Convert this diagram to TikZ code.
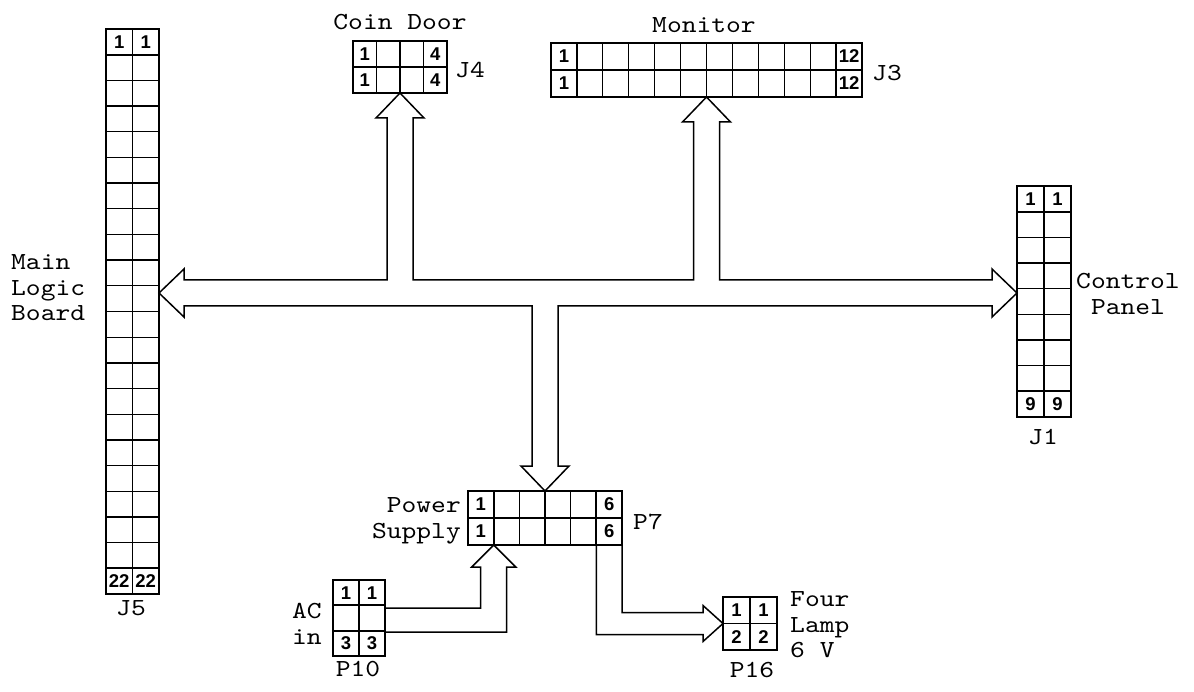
\documentclass[tikz,border=0pt]{standalone}
\usepackage{fontspec}
\usetikzlibrary{calc}
\newfontfamily\labelfont{lmmono10-regular.otf}[FakeStretch=1.15]
\newfontfamily\pinfont{Liberation Sans}
\begin{document}
\begin{tikzpicture}
  [
    x=1pt,y=-1pt,
    plug/.style={draw,line width=2.6pt,inner sep=0pt,outer sep=0pt},
    pinno/.style 2 args={draw,line width=1.8pt,inner sep=0pt,outer sep=0pt,
      minimum width=#1,minimum height=#2,font=\pinfont\bfseries\fontsize{18.5}{18.5}\selectfont},
    cell/.style={line width=1.3pt},
    bus/.style={draw,line width=1.5pt,line join=miter},
    tag/.style={inner sep=0pt,font=\labelfont\fontsize{24.5}{25.5}\selectfont},
  ]
  \useasboundingbox (0,0) rectangle (1194,692);

  % connector blocks
  \node[plug,minimum width=53pt,minimum height=565pt] (J5) at (132.5,311.5) {};
  \node[plug,minimum width=94pt,minimum height=52pt] (J4) at (400,67) {};
  \node[plug,minimum width=311pt,minimum height=54pt] (J3) at (706.5,70) {};
  \node[plug,minimum width=54pt,minimum height=231pt] (J1) at (1044,301.5) {};
  \node[plug,minimum width=154pt,minimum height=54pt] (P7) at (545,518) {};
  \node[plug,minimum width=52pt,minimum height=76pt] (P10) at (359,618) {};
  \node[plug,minimum width=54pt,minimum height=53pt] (P16) at (750,623.5) {};

  % cell lines
  \foreach \k in {1,...,21}
    \draw[cell] ($(J5.north west)!\k/22!(J5.south west)$) -- ($(J5.north east)!\k/22!(J5.south east)$);
  \draw[cell] (J5.north) -- (J5.south);
  \foreach \k in {1,2,3}
    \draw[cell] ($(J4.north west)!\k/4!(J4.north east)$) -- ($(J4.south west)!\k/4!(J4.south east)$);
  \draw[cell] (J4.west) -- (J4.east);
  \foreach \k in {1,...,11}
    \draw[cell] ($(J3.north west)!\k/12!(J3.north east)$) -- ($(J3.south west)!\k/12!(J3.south east)$);
  \draw[cell] (J3.west) -- (J3.east);
  \foreach \k in {1,...,8}
    \draw[cell] ($(J1.north west)!\k/9!(J1.south west)$) -- ($(J1.north east)!\k/9!(J1.south east)$);
  \draw[cell] (J1.north) -- (J1.south);
  \foreach \k in {1,...,5}
    \draw[cell] ($(P7.north west)!\k/6!(P7.north east)$) -- ($(P7.south west)!\k/6!(P7.south east)$);
  \draw[cell] (P7.west) -- (P7.east);
  \foreach \k in {1,2}
    \draw[cell] ($(P10.north west)!\k/3!(P10.south west)$) -- ($(P10.north east)!\k/3!(P10.south east)$);
  \draw[cell] (P10.north) -- (P10.south);
  \draw[cell] (P16.north) -- (P16.south);
  \draw[cell] (P16.west) -- (P16.east);

  % pin numbers
  \node[pinno={26.5pt}{25.7pt},anchor=north west] (J5 a1) at (J5.north west) {1};
  \node[pinno={26.5pt}{25.7pt},anchor=north east] (J5 a2) at (J5.north east) {1};
  \node[pinno={26.5pt}{25.7pt},anchor=south west] (J5 b1) at (J5.south west) {22};
  \node[pinno={26.5pt}{25.7pt},anchor=south east] (J5 b2) at (J5.south east) {22};
  \node[pinno={23.5pt}{26pt},anchor=north west] (J4 a1) at (J4.north west) {1};
  \node[pinno={23.5pt}{26pt},anchor=south west] (J4 b1) at (J4.south west) {1};
  \node[pinno={23.5pt}{26pt},anchor=north east] (J4 a4) at (J4.north east) {4};
  \node[pinno={23.5pt}{26pt},anchor=south east] (J4 b4) at (J4.south east) {4};
  \node[pinno={25.9pt}{27pt},anchor=north west] (J3 a1) at (J3.north west) {1};
  \node[pinno={25.9pt}{27pt},anchor=south west] (J3 b1) at (J3.south west) {1};
  \node[pinno={25.9pt}{27pt},anchor=north east] (J3 a12) at (J3.north east) {12};
  \node[pinno={25.9pt}{27pt},anchor=south east] (J3 b12) at (J3.south east) {12};
  \node[pinno={27pt}{25.7pt},anchor=north west] (J1 a1) at (J1.north west) {1};
  \node[pinno={27pt}{25.7pt},anchor=north east] (J1 a2) at (J1.north east) {1};
  \node[pinno={27pt}{25.7pt},anchor=south west] (J1 b1) at (J1.south west) {9};
  \node[pinno={27pt}{25.7pt},anchor=south east] (J1 b2) at (J1.south east) {9};
  \node[pinno={25.7pt}{27pt},anchor=north west] (P7 a1) at (P7.north west) {1};
  \node[pinno={25.7pt}{27pt},anchor=south west] (P7 b1) at (P7.south west) {1};
  \node[pinno={25.7pt}{27pt},anchor=north east] (P7 a6) at (P7.north east) {6};
  \node[pinno={25.7pt}{27pt},anchor=south east] (P7 b6) at (P7.south east) {6};
  \node[pinno={26pt}{25.3pt},anchor=north west] (P10 a1) at (P10.north west) {1};
  \node[pinno={26pt}{25.3pt},anchor=north east] (P10 a2) at (P10.north east) {1};
  \node[pinno={26pt}{25.3pt},anchor=south west] (P10 b1) at (P10.south west) {3};
  \node[pinno={26pt}{25.3pt},anchor=south east] (P10 b2) at (P10.south east) {3};
  \node[pinno={27pt}{26.5pt},anchor=north west] (P16 a1) at (P16.north west) {1};
  \node[pinno={27pt}{26.5pt},anchor=north east] (P16 a2) at (P16.north east) {1};
  \node[pinno={27pt}{26.5pt},anchor=south west] (P16 b1) at (P16.south west) {2};
  \node[pinno={27pt}{26.5pt},anchor=south east] (P16 b2) at (P16.south east) {2};

  % labels
  \node[tag] (coin) at (400,22) {Coin Door};
  \node[tag] (J4 name) at (470,70) {J4};
  \node[tag] (monitor) at (704,25) {Monitor};
  \node[tag] (J3 name) at (887,73) {J3};
  \node[tag,align=left,anchor=west] (mlb) at (11,288) {Main\\Logic\\Board};
  \node[tag] (J5 name) at (131,608) {J5};
  \node[tag,align=center] (panel) at (1128,294) {Control\\Panel};
  \node[tag] (J1 name) at (1043,437) {J1};
  \node[tag,align=right,anchor=east] (supply) at (461,521) {Power\\Supply};
  \node[tag] (P7 name) at (648,522) {P7};
  \node[tag,align=left,anchor=west] (acin) at (292,624) {AC\\in};
  \node[tag] (P10 name) at (358,669) {P10};
  \node[tag,align=left,anchor=west] (lamp) at (790,625) {Four\\Lamp\\6 V};
  \node[tag] (P16 name) at (752,670) {P16};

  % hollow bus arrows
  \coordinate (bus mid) at (0,293);
  \coordinate (bus top) at (0,280);
  \coordinate (bus bot) at (0,306);
  \coordinate (J5 tip) at (J5.east |- bus mid);
  \coordinate (J1 tip) at (J1.west |- bus mid);
  \coordinate (J4 base) at (J4.south |- bus top);
  \coordinate (J3 base) at (J3.south |- bus top);
  \coordinate (P7 base) at (P7.north |- bus bot);
  \draw[bus] (J5 tip) -- ++(25,-24) -- ++(0,11)
    -- ($(J4 base)+(-13,0)$) -- ($(J4.south)+(-13,25)$) -- ($(J4.south)+(-24,25)$) -- (J4.south)
    -- ($(J4.south)+(24,25)$) -- ($(J4.south)+(13,25)$) -- ($(J4 base)+(13,0)$)
    -- ($(J3 base)+(-13,0)$) -- ($(J3.south)+(-13,25)$) -- ($(J3.south)+(-24,25)$) -- (J3.south)
    -- ($(J3.south)+(24,25)$) -- ($(J3.south)+(13,25)$) -- ($(J3 base)+(13,0)$)
    -- ($(J1 tip)+(-25,-13)$) -- ++(0,-11) -- (J1 tip) -- ++(-25,24) -- ++(0,-11)
    -- ($(P7 base)+(13,0)$) -- ($(P7.north)+(13,-25)$) -- ($(P7.north)+(24,-25)$) -- (P7.north)
    -- ($(P7.north)+(-24,-25)$) -- ($(P7.north)+(-13,-25)$) -- ($(P7 base)+(-13,0)$)
    -- ($(J5 tip)+(25,13)$) -- ++(0,11) -- cycle;
  \draw[bus] ($(P10.north east)+(0,28)$) -| ($(P7 b1.south east)+(-13,22)$) -- ++(-9,0)
    -- (P7 b1.south east) -- ++(22,22) -- ++(-9,0) |- ($(P10.north east)+(0,52)$);
  \draw[bus] (P7 b6.south west) |- ($(P16.west)+(-20,11)$) -- ++(0,7) -- (P16.west)
    -- ++(-20,-18) -- ++(0,7) -| (P7.south east);
\end{tikzpicture}
\end{document}
